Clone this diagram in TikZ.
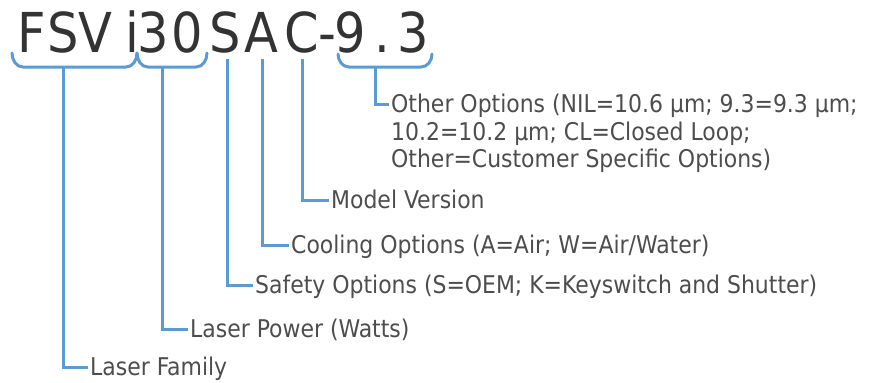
\documentclass[tikz,border=0pt]{standalone}
\usepackage{fontspec}
\newfontfamily\labfont{DejaVu Sans Condensed}
\definecolor{brblue}{HTML}{5B9BD5}
\definecolor{ttl}{HTML}{333333}
\definecolor{lab}{HTML}{4D4D4D}
\tikzset{
  conn/.style={draw=brblue, line width=3pt},
  tchar/.style={anchor=base, inner sep=0pt, text=ttl, font=\labfont\fontsize{55pt}{55pt}\selectfont},
  lbl/.style={anchor=west, inner xsep=2pt, inner ysep=0pt, text height=17.8pt, text depth=0pt, text=lab, font=\labfont\fontsize{24.4pt}{28pt}\selectfont},
}
\begin{document}
\begin{tikzpicture}[x=1pt,y=-1pt]
\useasboundingbox (0,0) rectangle (884,383);
% title characters
\foreach \c/\x [count=\i] in {F/32,S/63,V/95,i/132,3/153,0/187,S/225,A/261,C/302,-/327,9/350,./382,3/413}
  \node[tchar] (t\i) at (\x,52) {\c};
% braces
\draw[conn, line cap=round] (12,53) to[out=-90,in=180] (23,67) -- (126,67) to[out=0,in=-90] (137,53);
\draw[conn, line cap=round] (137,53) to[out=-90,in=180] (148,67) -- (196,67) to[out=0,in=-90] (207,53);
\draw[conn, line cap=round] (338,54) to[out=-90,in=180] (349,67) -- (421,67) to[out=0,in=-90] (432,54);
% stem tops
\coordinate (b1) at (63,67);
\coordinate (b2) at (162,67);
\coordinate (bs) at (227,59);
\coordinate (ba) at (262,59);
\coordinate (bc) at (302,59);
\coordinate (b3) at (375,67);
% labels
\node[lbl] (oo1) at (389,104) {Other Options (NIL=10.6 µm; 9.3=9.3 µm;};
\node[lbl] (oo2) at (389,131.5) {10.2=10.2 µm; CL=Closed Loop;};
\node[lbl] (oo3) at (389,159) {Other=Customer Specific Options)};
\node[lbl] (mv) at (329,200) {Model Version};
\node[lbl] (co) at (289,245) {Cooling Options (A=Air; W=Air/Water)};
\node[lbl] (so) at (253,285) {Safety Options (S=OEM; K=Keyswitch and Shutter)};
\node[lbl] (lp) at (188,329) {Laser Power (Watts)};
\node[lbl] (lf) at (88,367) {Laser Family};
% connectors
\draw[conn] (b3) |- (oo1.west);
\draw[conn] (bc) |- (mv.west);
\draw[conn] (ba) |- (co.west);
\draw[conn] (bs) |- (so.west);
\draw[conn] (b2) |- (lp.west);
\draw[conn] (b1) |- (lf.west);
\end{tikzpicture}
\end{document}
